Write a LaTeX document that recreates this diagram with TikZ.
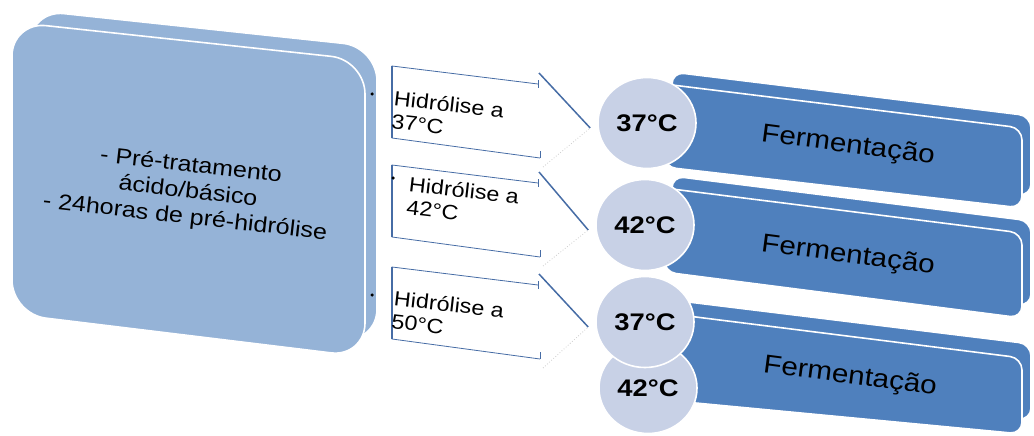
\documentclass[tikz,border=0pt]{standalone}
\usepackage{fontspec}
\setmainfont{Liberation Sans}
\newfontfamily\widesans[FakeStretch=1.14]{Liberation Sans}
\usetikzlibrary{shapes.geometric}
\definecolor{boxLight}{RGB}{149,179,215}
\definecolor{boxDark}{RGB}{79,128,189}
\definecolor{boxEdge}{RGB}{70,108,165}
\definecolor{circFill}{RGB}{200,209,230}

\begin{document}
\begin{tikzpicture}[x=1pt,y=-1pt,
    bigslab/.style={fill=boxLight, draw=white, line width=1.6pt, rounded corners=34pt},
    slab/.style={fill=boxDark, draw=white, line width=1.6pt, rounded corners=12pt},
    tempnode/.style={ellipse, fill=circFill, draw=white, line width=1.6pt,
      minimum width=98pt, minimum height=91pt, inner sep=0pt,
      font=\widesans\fontsize{24}{26}\selectfont\bfseries},
    hidtext/.style={anchor=north west, rotate=-6.5, align=left, inner sep=0pt,
      font=\widesans\fontsize{20.5}{23}\selectfont},
    fermtext/.style={rotate=-7.5, inner sep=0pt, font=\widesans\fontsize{26}{28}\selectfont},
    hidedge/.style={draw=boxEdge, line width=0.8pt},
    link/.style={draw=boxEdge, line width=1.5pt},
    ghost/.style={draw=gray!40, dotted, line width=0.8pt},
    bulletdot/.style={circle, fill=black, inner sep=0pt, minimum size=3.5pt}]
  \useasboundingbox (0,0) rectangle (1034,436);

  % pre-treatment block
  \path[bigslab] (30,10) -- (377,47) -- (377,343) -- (30,302) -- cycle;
  \path[bigslab] (12,22) -- (365,60) -- (365,357) -- (12,314) -- cycle;
  \node[rotate=-6.5, align=center, font=\widesans\fontsize{22}{26}\selectfont] (pre) at (188,192)
    {- Pré-tratamento\\ácido/básico\\- 24horas de pré-hidrólise};
  \node[bulletdot] (b1) at (372,94) {};
  \node[bulletdot] (b3) at (372,295) {};

  % fermentation slabs
  \path[slab] (672,72) -- (1031,116) -- (1031,196) -- (672,155) -- cycle;
  \path[slab] (664,84) -- (1022,128) -- (1022,208) -- (664,167) -- cycle;
  \path[slab] (672,176) -- (1031,221) -- (1031,306) -- (672,260) -- cycle;
  \path[slab] (664,188) -- (1022,233) -- (1022,318) -- (664,272) -- cycle;
  \path[slab] (672,300) -- (1031,344) -- (1031,420) -- (672,388) -- cycle;
  \path[slab] (664,313) -- (1022,358) -- (1022,434) -- (664,400) -- cycle;
  \node[fermtext] (f1) at (848,146) {Fermentação};
  \node[fermtext] (f2) at (848,256) {Fermentação};
  \node[fermtext] (f3) at (850,377) {Fermentação};

  % temperatures
  \node[tempnode] (t4) at (648,388) {42°C};
  \node[tempnode] (t3) at (645,322) {37°C};
  \node[tempnode] (t2) at (645,225) {42°C};
  \node[tempnode] (t1) at (647,123) {37°C};

  % hydrolysis boxes
  \foreach \n/\o in {1/0,2/99,3/201}{
    \coordinate (h\n tl) at (392,66+\o);
    \coordinate (h\n tr) at (538,84+\o);
    \coordinate (h\n bl) at (392,138+\o);
    \coordinate (h\n br) at (540,158+\o);
    \coordinate (h\n top) at (539,73+\o);
    \coordinate (h\n low) at (543,167+\o);
    \draw[hidedge] (h\n tr) -- (h\n tl) -- (h\n bl) -- (h\n br);
    \draw[boxEdge, line width=2pt] (h\n tl) -- (h\n bl);
    \draw[hidedge] ([yshift=-4pt]h\n tr) -- ([yshift=4pt]h\n tr);
    \draw[hidedge] (h\n br) -- ([yshift=7pt]h\n br);
    \draw[link] (h\n top) -- ([shift={(-7,5)}]t\n.west);
    \draw[ghost] (h\n low) -- ([shift={(-7,5)}]t\n.west);
  }
  \node[hidtext] (h1) at (395,90) {Hidrólise a\\37°C};
  \node[hidtext] (h2) at (410,176) {Hidrólise a\\42°C};
  \node[hidtext] (h3) at (395,290) {Hidrólise a\\50°C};
  \node[bulletdot] (b2) at (393,178) {};
\end{tikzpicture}
\end{document}
